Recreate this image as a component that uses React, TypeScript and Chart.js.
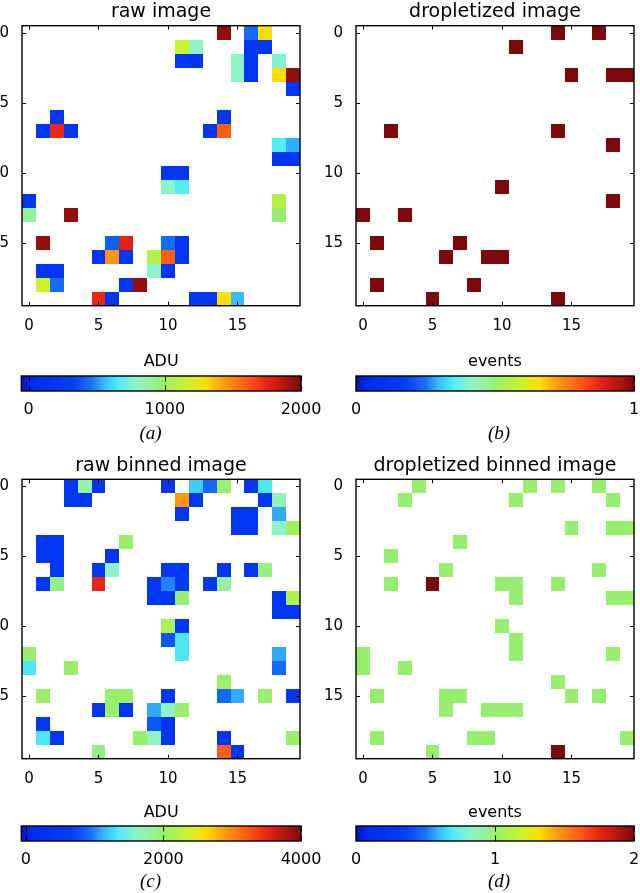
import React, { useEffect, useRef } from "react";
import { Chart, registerables } from "chart.js";

Chart.register(...registerables);

const FONT = "'DejaVu Sans', 'Liberation Sans', sans-serif";
const CAPTION_FONT = "'Liberation Serif', 'DejaVu Serif', serif";

const GRID_SIZE = 20;
const AXIS_TICKS = [0, 5, 10, 15];

// [row, column, value]
type Cell = [number, number, number];

// detector frame in ADU
const rawImage: Cell[] = [
  [0, 14, 1950], [0, 16, 440], [0, 17, 1300],
  [1, 11, 1160], [1, 12, 790], [1, 16, 190], [1, 17, 200],
  [2, 11, 190], [2, 12, 180], [2, 15, 790], [2, 16, 200], [2, 18, 760],
  [3, 15, 790], [3, 16, 190], [3, 18, 1300], [3, 19, 1950],
  [4, 19, 190],
  [6, 2, 190], [6, 14, 200],
  [7, 1, 190], [7, 2, 1740], [7, 3, 190], [7, 13, 190], [7, 14, 1590],
  [8, 18, 665], [8, 19, 540],
  [9, 18, 200], [9, 19, 190],
  [10, 10, 190], [10, 11, 200],
  [11, 10, 790], [11, 11, 665],
  [12, 0, 190], [12, 18, 1075],
  [13, 0, 900], [13, 3, 1950], [13, 18, 970],
  [15, 1, 1950], [15, 6, 400], [15, 7, 1770], [15, 10, 440], [15, 11, 190],
  [16, 5, 190], [16, 6, 1445], [16, 7, 190], [16, 9, 1075], [16, 10, 1590], [16, 11, 190],
  [17, 1, 190], [17, 2, 200], [17, 9, 790], [17, 10, 190],
  [18, 1, 1160], [18, 2, 440], [18, 7, 190], [18, 8, 1950],
  [19, 5, 1740], [19, 6, 190], [19, 12, 190], [19, 13, 200], [19, 14, 1300], [19, 15, 560],
];

// photon events found by the droplet algorithm
const dropletImage: Cell[] = [
  [0, 14, 1], [0, 17, 1], [1, 11, 1], [3, 15, 1], [3, 18, 1], [3, 19, 1],
  [7, 2, 1], [7, 14, 1], [8, 18, 1], [11, 10, 1], [12, 18, 1],
  [13, 0, 1], [13, 3, 1], [15, 1, 1], [15, 7, 1], [16, 6, 1], [16, 9, 1], [16, 10, 1],
  [18, 1, 1], [18, 8, 1], [19, 5, 1], [19, 14, 1],
];

// summed frames in ADU
const rawBinnedImage: Cell[] = [
  [0, 3, 420], [0, 4, 1750], [0, 5, 420], [0, 10, 420], [0, 12, 1220], [0, 13, 900], [0, 14, 1980], [0, 16, 420], [0, 17, 1330],
  [1, 3, 420], [1, 4, 420], [1, 11, 2900], [1, 12, 420], [1, 17, 420], [1, 18, 1700],
  [2, 11, 420], [2, 15, 420], [2, 16, 420], [2, 18, 1100],
  [3, 15, 420], [3, 16, 420], [3, 18, 1600], [3, 19, 2050],
  [4, 1, 420], [4, 2, 420], [4, 7, 1980],
  [5, 1, 420], [5, 2, 420], [5, 6, 420],
  [6, 2, 420], [6, 5, 420], [6, 6, 1600], [6, 10, 420], [6, 11, 420], [6, 14, 420], [6, 16, 420], [6, 17, 1900],
  [7, 1, 420], [7, 2, 1900], [7, 5, 3500], [7, 9, 420], [7, 10, 1000], [7, 11, 600], [7, 13, 420], [7, 14, 1800],
  [8, 9, 420], [8, 10, 420], [8, 11, 1950], [8, 18, 420], [8, 19, 2150],
  [9, 18, 420], [9, 19, 420],
  [10, 10, 2100], [10, 11, 420],
  [11, 10, 800], [11, 11, 1330],
  [12, 0, 1980], [12, 11, 1330], [12, 18, 1100],
  [13, 0, 1330], [13, 3, 1980], [13, 18, 900],
  [14, 14, 1980],
  [15, 1, 2000], [15, 6, 1980], [15, 7, 1980], [15, 10, 420], [15, 14, 900], [15, 15, 1100], [15, 17, 1980], [15, 19, 420],
  [16, 5, 420], [16, 6, 1980], [16, 7, 420], [16, 9, 1100], [16, 10, 1650], [16, 11, 2000],
  [17, 1, 420], [17, 9, 800], [17, 10, 420],
  [18, 1, 1330], [18, 2, 420], [18, 8, 1980], [18, 9, 1650], [18, 10, 420], [18, 14, 420], [18, 19, 2000],
  [19, 5, 1900], [19, 14, 3200], [19, 15, 420],
];

// summed droplet events
const dropletBinnedImage: Cell[] = [
  [0, 4, 1], [0, 12, 1], [0, 14, 1], [0, 17, 1],
  [1, 3, 1], [1, 11, 1], [1, 18, 1],
  [3, 15, 1], [3, 18, 1], [3, 19, 1],
  [4, 7, 1], [5, 2, 1], [6, 6, 1], [6, 17, 1],
  [7, 2, 1], [7, 5, 2], [7, 10, 1], [7, 11, 1], [7, 14, 1],
  [8, 11, 1], [8, 18, 1], [8, 19, 1],
  [10, 10, 1], [11, 11, 1],
  [12, 0, 1], [12, 11, 1], [12, 18, 1],
  [13, 0, 1], [13, 3, 1], [14, 14, 1],
  [15, 1, 1], [15, 6, 1], [15, 7, 1], [15, 15, 1], [15, 17, 1],
  [16, 6, 1], [16, 9, 1], [16, 10, 1], [16, 11, 1],
  [18, 1, 1], [18, 8, 1], [18, 9, 1], [18, 19, 1],
  [19, 5, 1], [19, 14, 2],
];

const rawRange: [number, number] = [-54, 2000];
const dropletRange: [number, number] = [0, 1];
const rawBinnedRange: [number, number] = [-65, 4000];
const dropletBinnedRange: [number, number] = [0, 2];

const rawTicks = [0, 1000, 2000];
const dropletTicks = [0, 1];
const rawBinnedTicks = [0, 2000, 4000];
const dropletBinnedTicks = [0, 1, 2];

// jet-like colour map: [position, r, g, b]
const COLORMAP: [number, number, number, number][] = [
  [0.0, 0, 20, 185],
  [0.04, 0, 42, 235],
  [0.18, 0, 62, 245],
  [0.25, 25, 115, 255],
  [0.3, 55, 190, 255],
  [0.35, 80, 238, 245],
  [0.41, 142, 244, 200],
  [0.46, 150, 242, 160],
  [0.5, 150, 240, 110],
  [0.59, 200, 245, 45],
  [0.66, 255, 222, 0],
  [0.73, 255, 150, 15],
  [0.8, 255, 95, 20],
  [0.88, 232, 35, 20],
  [1.0, 125, 10, 10],
];

function cmap(t: number): string {
  const u = Math.min(1, Math.max(0, t));
  for (let i = 1; i < COLORMAP.length; i++) {
    const a = COLORMAP[i - 1];
    const b = COLORMAP[i];
    if (u <= b[0]) {
      const f = (u - a[0]) / (b[0] - a[0] || 1);
      const c = [1, 2, 3].map((k) => Math.round(a[k] + (b[k] - a[k]) * f));
      return `rgb(${c[0]},${c[1]},${c[2]})`;
    }
  }
  const l = COLORMAP[COLORMAP.length - 1];
  return `rgb(${l[1]},${l[2]},${l[3]})`;
}

type Box = { left: number; top: number; width: number; height: number };
type Area = { left: number; top: number; right: number; bottom: number };

const heatCellsPlugin = {
  id: "heatCells",
  afterDatasetsDraw(chart: any, _args: any, opts: any) {
    const { ctx, chartArea, scales } = chart;
    const x = scales.x;
    const y = scales.y;
    const [vmin, vmax] = opts.range as [number, number];
    ctx.save();
    ctx.beginPath();
    ctx.rect(chartArea.left, chartArea.top, chartArea.right - chartArea.left, chartArea.bottom - chartArea.top);
    ctx.clip();
    for (const p of chart.data.datasets[0].data) {
      const x0 = Math.round(x.getPixelForValue(p.x - 0.5));
      const x1 = Math.round(x.getPixelForValue(p.x + 0.5));
      const y0 = Math.round(y.getPixelForValue(p.y - 0.5));
      const y1 = Math.round(y.getPixelForValue(p.y + 0.5));
      ctx.fillStyle = cmap((p.v - vmin) / (vmax - vmin));
      ctx.fillRect(Math.min(x0, x1), Math.min(y0, y1), Math.abs(x1 - x0), Math.abs(y1 - y0));
    }
    ctx.restore();
  },
  afterDraw(chart: any) {
    const { ctx, chartArea: a, scales } = chart;
    const len = 4;
    ctx.save();
    ctx.strokeStyle = "#000";
    ctx.lineWidth = 1;
    ctx.beginPath();
    for (const t of scales.x.ticks) {
      const px = Math.round(scales.x.getPixelForValue(t.value)) + 0.5;
      ctx.moveTo(px, a.bottom);
      ctx.lineTo(px, a.bottom - len);
      ctx.moveTo(px, a.top);
      ctx.lineTo(px, a.top + len);
    }
    for (const t of scales.y.ticks) {
      const py = Math.round(scales.y.getPixelForValue(t.value)) + 0.5;
      ctx.moveTo(a.left, py);
      ctx.lineTo(a.left + len, py);
      ctx.moveTo(a.right, py);
      ctx.lineTo(a.right - len, py);
    }
    ctx.stroke();
    ctx.lineWidth = 1.4;
    ctx.strokeRect(a.left, a.top, a.right - a.left, a.bottom - a.top);
    ctx.restore();
  },
};

const colorbarPlugin = {
  id: "colorbar",
  beforeDatasetsDraw(chart: any) {
    const { ctx, chartArea: a, scales } = chart;
    const x = scales.x;
    ctx.save();
    ctx.beginPath();
    ctx.rect(a.left, a.top, a.right - a.left, a.bottom - a.top);
    ctx.clip();
    for (let px = Math.floor(a.left); px < Math.ceil(a.right); px++) {
      const v = x.getValueForPixel(px + 0.5);
      ctx.fillStyle = cmap((v - x.min) / (x.max - x.min));
      ctx.fillRect(px, a.top, 1, a.bottom - a.top);
    }
    ctx.restore();
    ctx.save();
    ctx.strokeStyle = "#000";
    ctx.lineWidth = 1;
    ctx.beginPath();
    const len = 5.5;
    for (const t of x.ticks) {
      const px = Math.round(x.getPixelForValue(t.value)) + 0.5;
      ctx.moveTo(px, a.top);
      ctx.lineTo(px, a.top + len);
      ctx.moveTo(px, a.bottom);
      ctx.lineTo(px, a.bottom - len);
    }
    ctx.stroke();
    ctx.lineWidth = 1.4;
    ctx.strokeRect(a.left, a.top, a.right - a.left, a.bottom - a.top);
    ctx.restore();
  },
};

function canvasStyle(box: Box): React.CSSProperties {
  return { position: "absolute", left: box.left, top: box.top, width: box.width, height: box.height };
}

function HeatmapPanel(props: { title: string; cells: Cell[]; range: [number, number]; box: Box; area: Area; titleY: number }) {
  const { title, cells, range, box, area, titleY } = props;
  const ref = useRef<HTMLCanvasElement>(null);
  useEffect(() => {
    const titleSize = 19;
    const titleLH = titleSize * 1.2;
    const tickSize = 15;
    const xAxisH = box.top + box.height - area.bottom;
    const yAxisW = area.left - box.left;
    const chart = new Chart(ref.current!, {
      type: "scatter",
      data: {
        datasets: [
          {
            data: cells.map(([r, c, v]) => ({ x: c, y: r, v })) as any,
            pointRadius: 0,
            pointHoverRadius: 0,
          },
        ],
      },
      options: {
        animation: false,
        responsive: false,
        maintainAspectRatio: false,
        events: [],
        layout: { padding: { left: 0, top: 0, bottom: 0, right: box.left + box.width - area.right } },
        plugins: {
          legend: { display: false },
          tooltip: { enabled: false },
          title: {
            display: true,
            text: title,
            color: "#000",
            fullSize: false,
            font: { family: FONT, size: titleSize, weight: "normal", lineHeight: 1.2 },
            padding: { top: titleY - box.top - titleLH / 2, bottom: area.top - titleY - titleLH / 2 },
          },
          heatCells: { range },
        } as any,
        scales: {
          x: {
            type: "linear",
            position: "bottom",
            min: -0.5,
            max: GRID_SIZE - 0.5,
            grid: { display: false },
            border: { display: false },
            ticks: {
              color: "#000",
              font: { family: FONT, size: tickSize, lineHeight: 1.2 },
              padding: 3.3,
              maxRotation: 0,
              autoSkip: false,
              callback: (v: any) => String(v),
            },
            afterBuildTicks: (s: any) => {
              s.ticks = AXIS_TICKS.map((value) => ({ value }));
            },
            afterFit: (s: any) => {
              s.height = xAxisH;
              s.paddingLeft = 0;
              s.paddingRight = 0;
            },
          },
          y: {
            type: "linear",
            position: "left",
            reverse: true,
            min: -0.5,
            max: GRID_SIZE - 0.5,
            grid: { display: false },
            border: { display: false },
            ticks: {
              color: "#000",
              font: { family: FONT, size: tickSize, lineHeight: 1.2 },
              padding: 5,
              autoSkip: false,
              callback: (v: any) => String(v),
            },
            afterBuildTicks: (s: any) => {
              s.ticks = AXIS_TICKS.map((value) => ({ value }));
            },
            afterFit: (s: any) => {
              s.width = yAxisW;
              s.paddingTop = 0;
              s.paddingBottom = 0;
            },
          },
        },
      } as any,
      plugins: [heatCellsPlugin],
    });
    return () => chart.destroy();
  }, []);
  return <canvas ref={ref} width={box.width} height={box.height} style={canvasStyle(box)} />;
}

function Colorbar(props: { label: string; ticks: number[]; range: [number, number]; box: Box; area: Area; titleY: number; tickY: number }) {
  const { label, ticks, range, box, area, titleY, tickY } = props;
  const ref = useRef<HTMLCanvasElement>(null);
  useEffect(() => {
    const size = 16;
    const lh = size * 1.2;
    const xAxisH = box.top + box.height - area.bottom;
    const chart = new Chart(ref.current!, {
      type: "scatter",
      data: { datasets: [] },
      options: {
        animation: false,
        responsive: false,
        maintainAspectRatio: false,
        events: [],
        layout: {
          padding: { left: area.left - box.left, right: box.left + box.width - area.right, top: 0, bottom: 0 },
        },
        plugins: {
          legend: { display: false },
          tooltip: { enabled: false },
          title: {
            display: true,
            text: label,
            color: "#000",
            fullSize: false,
            font: { family: FONT, size, weight: "normal", lineHeight: 1.2 },
            padding: { top: titleY - box.top - lh / 2, bottom: area.top - titleY - lh / 2 },
          },
        },
        scales: {
          x: {
            type: "linear",
            position: "bottom",
            min: range[0],
            max: range[1],
            grid: { display: false },
            border: { display: false },
            ticks: {
              color: "#000",
              font: { family: FONT, size, lineHeight: 1.2 },
              padding: tickY - area.bottom - lh / 2,
              maxRotation: 0,
              autoSkip: false,
              callback: (v: any) => String(v),
            },
            afterBuildTicks: (s: any) => {
              s.ticks = ticks.map((value) => ({ value }));
            },
            afterFit: (s: any) => {
              s.height = xAxisH;
              s.paddingLeft = 0;
              s.paddingRight = 0;
            },
          },
          y: { display: false, min: 0, max: 1 },
        },
      } as any,
      plugins: [colorbarPlugin],
    });
    return () => chart.destroy();
  }, []);
  return <canvas ref={ref} width={box.width} height={box.height} style={canvasStyle(box)} />;
}

function Caption(props: { text: string; x: number; y: number }) {
  return (
    <div
      style={{
        position: "absolute",
        left: props.x,
        top: props.y,
        transform: "translate(-50%, -50%)",
        fontFamily: CAPTION_FONT,
        fontStyle: "italic",
        fontSize: 19,
        lineHeight: 1,
        color: "#000",
        whiteSpace: "nowrap",
      }}
    >
      {props.text}
    </div>
  );
}

export default function App() {
  return (
    <div style={{ position: "absolute", left: 0, top: 0, width: 640, height: 893, background: "#fff", overflow: "hidden" }}>
      <HeatmapPanel
        title="raw image"
        cells={rawImage}
        range={rawRange}
        box={{ left: 0, top: 0, width: 310, height: 330 }}
        area={{ left: 22, top: 25.7, right: 300, bottom: 305.7 }}
        titleY={12}
      />
      <HeatmapPanel
        title="dropletized image"
        cells={dropletImage}
        range={dropletRange}
        box={{ left: 320, top: 0, width: 320, height: 330 }}
        area={{ left: 356, top: 25.7, right: 634, bottom: 305.7 }}
        titleY={12}
      />
      <HeatmapPanel
        title="raw binned image"
        cells={rawBinnedImage}
        range={rawBinnedRange}
        box={{ left: 0, top: 450, width: 310, height: 335 }}
        area={{ left: 22, top: 479.3, right: 300, bottom: 758.7 }}
        titleY={466}
      />
      <HeatmapPanel
        title="dropletized binned image"
        cells={dropletBinnedImage}
        range={dropletBinnedRange}
        box={{ left: 320, top: 450, width: 320, height: 335 }}
        area={{ left: 356, top: 479.3, right: 634, bottom: 758.7 }}
        titleY={466}
      />
      <Colorbar
        label="ADU"
        ticks={rawTicks}
        range={rawRange}
        box={{ left: 0, top: 340, width: 340, height: 90 }}
        area={{ left: 21.3, top: 376, right: 301, bottom: 391 }}
        titleY={362}
        tickY={402}
      />
      <Colorbar
        label="events"
        ticks={dropletTicks}
        range={dropletRange}
        box={{ left: 320, top: 340, width: 320, height: 90 }}
        area={{ left: 356, top: 376, right: 634, bottom: 391 }}
        titleY={362}
        tickY={402}
      />
      <Colorbar
        label="ADU"
        ticks={rawBinnedTicks}
        range={rawBinnedRange}
        box={{ left: 0, top: 790, width: 340, height: 90 }}
        area={{ left: 21.3, top: 826, right: 301, bottom: 841 }}
        titleY={813}
        tickY={852}
      />
      <Colorbar
        label="events"
        ticks={dropletBinnedTicks}
        range={dropletBinnedRange}
        box={{ left: 320, top: 790, width: 320, height: 90 }}
        area={{ left: 356, top: 826, right: 634, bottom: 841 }}
        titleY={813}
        tickY={852}
      />
      <Caption text="(a)" x={150.5} y={432} />
      <Caption text="(b)" x={499} y={432} />
      <Caption text="(c)" x={150.5} y={880} />
      <Caption text="(d)" x={499} y={880} />
    </div>
  );
}
